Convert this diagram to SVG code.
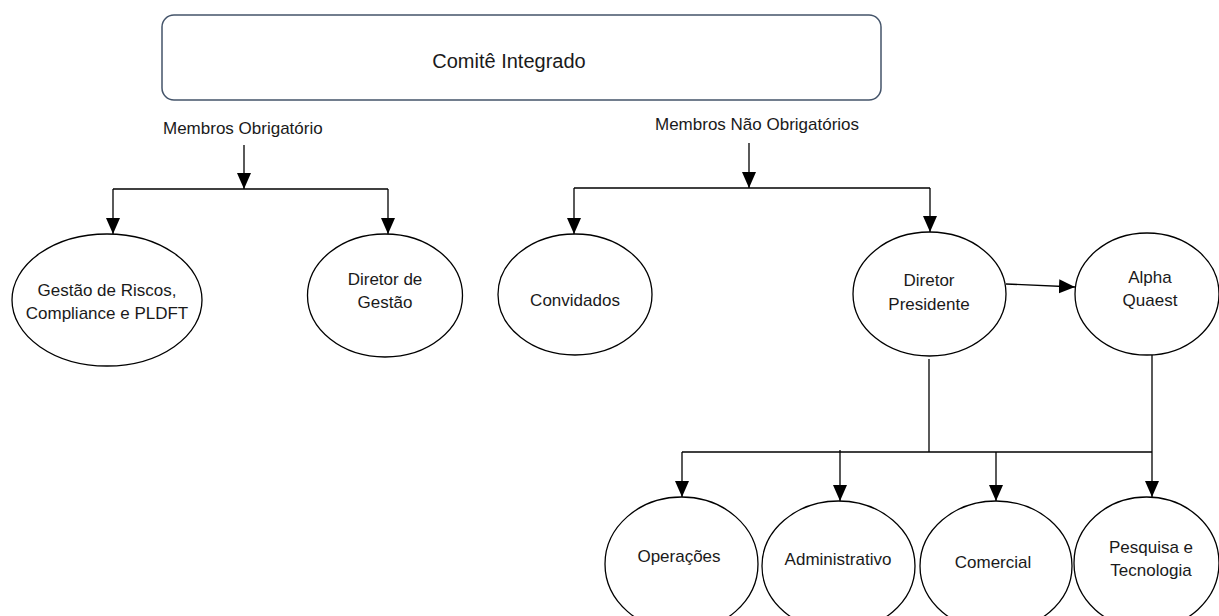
<svg xmlns="http://www.w3.org/2000/svg" width="1219" height="616" viewBox="0 0 1219 616">
<defs>
<marker id="ah" markerUnits="userSpaceOnUse" markerWidth="16" markerHeight="16" viewBox="0 0 16 14" refX="16" refY="7" orient="auto">
<path d="M0,0 L16,7 L0,14 Z" fill="#000"/>
</marker>
<style>
.n{fill:#fff;stroke:#000;stroke-width:1.3}
.t{font-family:"Liberation Sans",Arial,sans-serif;font-size:17px;fill:#1a1a1a;text-anchor:middle}
.c{fill:none;stroke:#000;stroke-width:1.3}
.a{marker-end:url(#ah)}
</style>
</defs>
<rect width="1219" height="616" fill="#fff"/>
<g id="comite">
<rect x="162" y="15" width="719" height="85" rx="12" ry="12" fill="#fff" stroke="#44546a" stroke-width="1.5"/>
<text class="t" x="509" y="68" style="font-size:20px">Comitê Integrado</text>
</g>
<g id="label-obrigatorio"><text class="t" x="163" y="134" style="text-anchor:start">Membros Obrigatório</text></g>
<g id="label-nao-obrigatorio"><text class="t" x="655" y="130" style="text-anchor:start">Membros Não Obrigatórios</text></g>
<g id="connectors">
<line class="c a" x1="244" y1="145" x2="244" y2="189"/>
<line class="c" x1="113" y1="189" x2="388" y2="189"/>
<line class="c a" x1="113" y1="189" x2="113" y2="234"/>
<line class="c a" x1="388" y1="189" x2="388" y2="234"/>
<line class="c a" x1="749" y1="143" x2="749" y2="188"/>
<line class="c" x1="574" y1="188" x2="930" y2="188"/>
<line class="c a" x1="574" y1="188" x2="574" y2="234"/>
<line class="c a" x1="930" y1="188" x2="930" y2="232"/>
<line class="c a" x1="1006" y1="284" x2="1075" y2="287"/>
<line class="c" x1="929" y1="359" x2="929" y2="452"/>
<line class="c a" x1="1152" y1="355" x2="1152" y2="497"/>
<line class="c" x1="682" y1="452" x2="1152" y2="452"/>
<line class="c a" x1="682" y1="452" x2="682" y2="497"/>
<line class="c a" x1="840" y1="450" x2="840" y2="501"/>
<line class="c a" x1="996" y1="452" x2="996" y2="501"/>
</g>
<g id="gestao-riscos">
<ellipse class="n" cx="107" cy="300" rx="95" ry="66"/>
<text class="t" x="107" y="296">Gestão de Riscos,</text>
<text class="t" x="107" y="319">Compliance e PLDFT</text>
</g>
<g id="diretor-gestao">
<ellipse class="n" cx="385" cy="295.5" rx="77.5" ry="61.5"/>
<text class="t" x="385" y="285">Diretor de</text>
<text class="t" x="385" y="308">Gestão</text>
</g>
<g id="convidados">
<ellipse class="n" cx="575" cy="294.5" rx="77" ry="60.5"/>
<text class="t" x="575" y="306">Convidados</text>
</g>
<g id="diretor-presidente">
<ellipse class="n" cx="929.5" cy="294" rx="76.5" ry="62"/>
<text class="t" x="929" y="286">Diretor</text>
<text class="t" x="929" y="310">Presidente</text>
</g>
<g id="alpha-quaest">
<ellipse class="n" cx="1147" cy="294" rx="72" ry="61"/>
<text class="t" x="1150" y="283">Alpha</text>
<text class="t" x="1150" y="306">Quaest</text>
</g>
<g id="operacoes">
<ellipse class="n" cx="681.5" cy="564" rx="76.5" ry="67"/>
<text class="t" x="679" y="562">Operações</text>
</g>
<g id="administrativo">
<ellipse class="n" cx="838.5" cy="566" rx="76.5" ry="65"/>
<text class="t" x="838" y="565">Administrativo</text>
</g>
<g id="comercial">
<ellipse class="n" cx="996" cy="566" rx="76" ry="65"/>
<text class="t" x="993" y="568">Comercial</text>
</g>
<g id="pesquisa-tecnologia">
<ellipse class="n" cx="1146.5" cy="563" rx="72.5" ry="66"/>
<text class="t" x="1151" y="553">Pesquisa e</text>
<text class="t" x="1151" y="576">Tecnologia</text>
</g>
</svg>
